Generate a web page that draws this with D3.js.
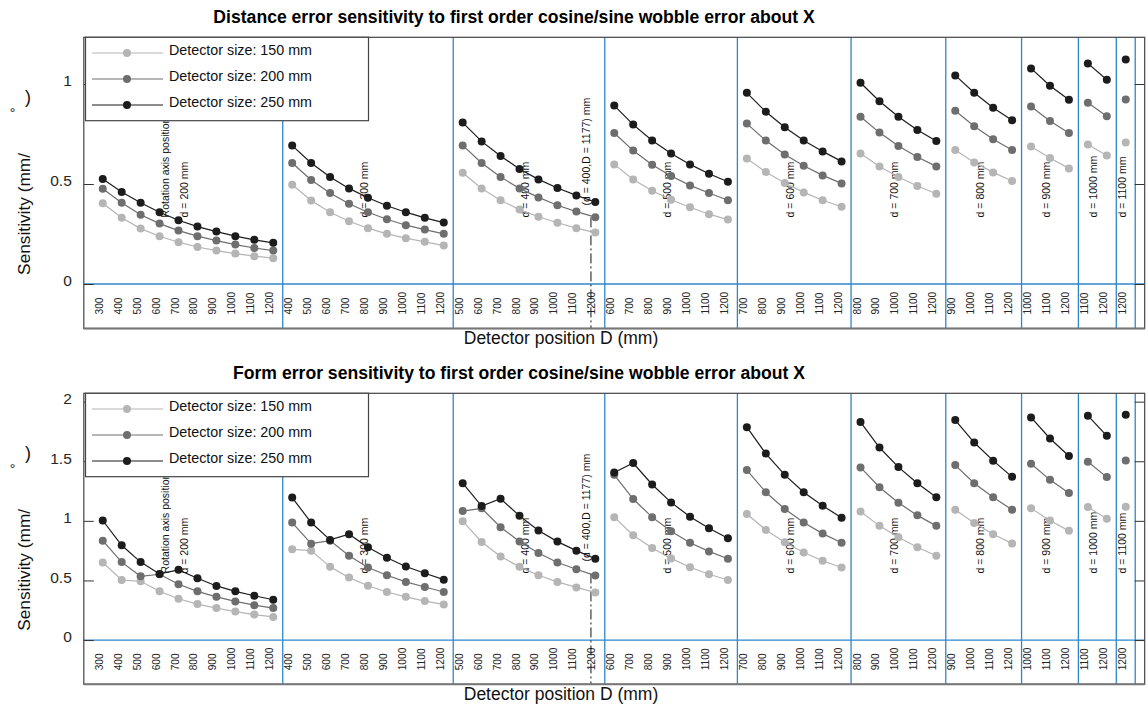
<!DOCTYPE html>
<html>
<head>
<meta charset="utf-8">
<script src="https://cdn.jsdelivr.net/npm/d3@7"></script>
<style>
body { margin: 0; background: #fff; }
svg text { font-family: "Liberation Sans", Arial, sans-serif; }
</style>
</head>
<body>
<div id="chart"></div>
<script>
// distance d between source and rotation axis for each group (mm)
const rotationAxisD = [200, 300, 400, 500, 600, 700, 800, 900, 1000, 1100];

// detector positions D inside each group (mm)
const detectorPositions = [
    [300, 400, 500, 600, 700, 800, 900, 1000, 1100, 1200],
    [400, 500, 600, 700, 800, 900, 1000, 1100, 1200],
    [500, 600, 700, 800, 900, 1000, 1100, 1200],
    [600, 700, 800, 900, 1000, 1100, 1200],
    [700, 800, 900, 1000, 1100, 1200],
    [800, 900, 1000, 1100, 1200],
    [900, 1000, 1100, 1200],
    [1000, 1100, 1200],
    [1100, 1200],
    [1200]
];

const seriesNames = ["Detector size: 150 mm", "Detector size: 200 mm", "Detector size: 250 mm"];
const seriesColors = ["#b5b5b5", "#6e6e6e", "#1c1c1c"];

// distance error sensitivity (mm/deg)
const distance150 = [
    [0.404, 0.331, 0.277, 0.239, 0.209, 0.185, 0.167, 0.152, 0.139, 0.129],
    [0.496, 0.418, 0.359, 0.314, 0.279, 0.251, 0.229, 0.211, 0.192],
    [0.556, 0.478, 0.419, 0.372, 0.336, 0.306, 0.279, 0.257],
    [0.598, 0.523, 0.466, 0.421, 0.384, 0.349, 0.322],
    [0.628, 0.560, 0.505, 0.458, 0.419, 0.386],
    [0.652, 0.588, 0.535, 0.490, 0.451],
    [0.670, 0.608, 0.558, 0.515],
    [0.687, 0.630, 0.578],
    [0.698, 0.643],
    [0.707]
];
const distance200 = [
    [0.476, 0.406, 0.346, 0.302, 0.267, 0.239, 0.217, 0.197, 0.180, 0.167],
    [0.605, 0.520, 0.455, 0.401, 0.359, 0.324, 0.294, 0.272, 0.251],
    [0.693, 0.605, 0.535, 0.478, 0.433, 0.394, 0.362, 0.334],
    [0.755, 0.667, 0.596, 0.540, 0.493, 0.455, 0.419],
    [0.802, 0.717, 0.648, 0.591, 0.543, 0.503],
    [0.836, 0.757, 0.690, 0.635, 0.588],
    [0.866, 0.789, 0.724, 0.670],
    [0.887, 0.815, 0.755],
    [0.906, 0.839],
    [0.922]
];
const distance250 = [
    [0.525, 0.460, 0.406, 0.359, 0.319, 0.287, 0.262, 0.239, 0.221, 0.206],
    [0.692, 0.605, 0.535, 0.478, 0.431, 0.391, 0.359, 0.331, 0.307],
    [0.807, 0.713, 0.640, 0.575, 0.523, 0.480, 0.443, 0.410],
    [0.892, 0.797, 0.718, 0.652, 0.598, 0.551, 0.511],
    [0.956, 0.861, 0.784, 0.717, 0.663, 0.613],
    [1.006, 0.914, 0.836, 0.770, 0.715],
    [1.043, 0.956, 0.881, 0.819],
    [1.078, 0.991, 0.921],
    [1.103, 1.021],
    [1.123]
];

// form error sensitivity (mm/deg)
const form150 = [
    [0.651, 0.504, 0.493, 0.409, 0.347, 0.302, 0.268, 0.239, 0.214, 0.194],
    [0.761, 0.750, 0.614, 0.524, 0.456, 0.403, 0.363, 0.327, 0.299],
    [0.997, 0.823, 0.702, 0.614, 0.544, 0.488, 0.442, 0.400],
    [1.031, 0.879, 0.772, 0.685, 0.611, 0.552, 0.504],
    [1.057, 0.924, 0.820, 0.735, 0.665, 0.609],
    [1.079, 0.958, 0.862, 0.778, 0.707],
    [1.093, 0.983, 0.888, 0.811],
    [1.105, 1.003, 0.916],
    [1.116, 1.017],
    [1.118]
];
const form200 = [
    [0.834, 0.654, 0.535, 0.552, 0.468, 0.409, 0.363, 0.324, 0.293, 0.268],
    [0.986, 0.809, 0.834, 0.707, 0.609, 0.544, 0.488, 0.445, 0.403],
    [1.082, 1.105, 0.947, 0.826, 0.730, 0.651, 0.594, 0.541],
    [1.386, 1.183, 1.031, 0.913, 0.817, 0.744, 0.682],
    [1.426, 1.240, 1.099, 0.986, 0.893, 0.817],
    [1.448, 1.282, 1.152, 1.046, 0.958],
    [1.468, 1.316, 1.198, 1.093],
    [1.479, 1.344, 1.234],
    [1.496, 1.367],
    [1.507]
];
const form250 = [
    [1.003, 0.795, 0.654, 0.555, 0.589, 0.518, 0.454, 0.409, 0.372, 0.338],
    [1.195, 0.986, 0.840, 0.888, 0.778, 0.690, 0.617, 0.561, 0.507],
    [1.316, 1.124, 1.186, 1.042, 0.919, 0.826, 0.750, 0.682],
    [1.406, 1.485, 1.305, 1.155, 1.034, 0.938, 0.854],
    [1.786, 1.564, 1.386, 1.240, 1.127, 1.026],
    [1.829, 1.615, 1.451, 1.316, 1.198],
    [1.845, 1.657, 1.505, 1.369],
    [1.868, 1.691, 1.544],
    [1.882, 1.713],
    [1.891]
];

const yTicksDistance = [0, 0.5, 1];
const yTicksForm = [0, 0.5, 1, 1.5, 2];

// special marker: rotation axis limit
const limitD = 400;
const limitDetector = 1177;

const blue = "#2f86cc";

const svg = d3.select("#chart").append("svg")
    .attr("width", 1148)
    .attr("height", 705);

// running index of every point along the categorical x axis
let idx = 0;
const groups = detectorPositions.map((ds, g) => {
    const start = idx + 1;
    idx += ds.length;
    return { g: g, d: rotationAxisD[g], ds: ds, start: start, end: idx };
});

const x = d3.scaleLinear().domain([0, idx + 1]).range([83.8, 1144.7]);

const panels = [
    {
        title: "Distance error sensitivity to first order cosine/sine wobble error about X",
        titleX: 514, titleY: 23,
        top: 37.3, bottom: 328.5,
        yDomain: [-0.2225, 1.2335],
        yTicks: yTicksDistance,
        series: [distance150, distance200, distance250]
    },
    {
        title: "Form error sensitivity to first order cosine/sine wobble error about X",
        titleX: 519, titleY: 379,
        top: 393.3, bottom: 684.3,
        yDomain: [-0.371, 2.07],
        yTicks: yTicksForm,
        series: [form150, form200, form250]
    }
];

panels.forEach(drawPanel);

function drawPanel(p) {
    const y = d3.scaleLinear().domain(p.yDomain).range([p.bottom, p.top]);
    const left = x.range()[0], right = x.range()[1];
    const g = svg.append("g");

    // title
    g.append("text")
        .attr("x", p.titleX).attr("y", p.titleY)
        .attr("text-anchor", "middle")
        .attr("font-weight", "bold")
        .attr("font-size", 17.6)
        .attr("fill", "#000")
        .text(p.title);

    // group separators
    g.selectAll(".sep")
        .data(groups)
        .enter()
        .append("line")
        .attr("x1", d => x(d.end + 0.5)).attr("x2", d => x(d.end + 0.5))
        .attr("y1", p.top).attr("y2", p.bottom)
        .attr("stroke", blue).attr("stroke-width", 1.3);

    // zero line
    g.append("line")
        .attr("x1", left).attr("x2", right)
        .attr("y1", y(0)).attr("y2", y(0))
        .attr("stroke", blue).attr("stroke-width", 1.3);

    // detector position labels
    groups.forEach(gr => {
        gr.ds.forEach((D, i) => {
            g.append("text")
                .attr("transform", `translate(${x(gr.start + i)},${p.bottom - 14}) rotate(-90)`)
                .attr("font-size", 10.2)
                .attr("fill", "#262626")
                .text(D);
        });
    });

    // group annotations
    const annY = y(0.27 * p.yDomain[1]);
    groups.forEach(gr => {
        const cx = x((gr.start + gr.end) / 2);
        g.append("text")
            .attr("transform", `translate(${cx},${annY}) rotate(-90)`)
            .attr("font-size", 10.5)
            .attr("fill", "#111")
            .text(`d = ${gr.d} mm`);
        if (gr.g === 0) {
            g.append("text")
                .attr("transform", `translate(${cx - 19},${annY}) rotate(-90)`)
                .attr("font-size", 10.5)
                .attr("fill", "#111")
                .text("Rotation axis position");
        }
    });

    // limit marker (dash-dot)
    const lg = groups[rotationAxisD.indexOf(limitD)];
    const lx = x(lg.start + (limitDetector - lg.ds[0]) / 100);
    g.append("line")
        .attr("x1", lx).attr("x2", lx)
        .attr("y1", annY).attr("y2", p.bottom)
        .attr("stroke", "#111").attr("stroke-width", 1)
        .attr("stroke-dasharray", "10,3,2,3");
    g.append("text")
        .attr("transform", `translate(${lx - 1},${y(0.318 * p.yDomain[1])}) rotate(-90)`)
        .attr("font-size", 10.5)
        .attr("fill", "#111")
        .text(`(d = ${limitD},D = ${limitDetector}) mm`);

    // series
    const line = d3.line();
    p.series.forEach((data, s) => {
        groups.forEach(gr => {
            const pts = data[gr.g].map((v, i) => [x(gr.start + i), y(v)]);
            g.append("path")
                .attr("d", line(pts))
                .attr("fill", "none")
                .attr("stroke", seriesColors[s])
                .attr("stroke-width", 1.2);
            g.selectAll(null)
                .data(pts)
                .enter()
                .append("circle")
                .attr("cx", d => d[0]).attr("cy", d => d[1])
                .attr("r", 4)
                .attr("fill", seriesColors[s]);
        });
    });

    // y axes (ticks inward)
    const yl = g.append("g")
        .attr("transform", `translate(${left},0)`)
        .call(d3.axisLeft(y).tickValues(p.yTicks).tickSize(-10).tickPadding(12).tickFormat(d => d));
    yl.select(".domain").remove();
    yl.selectAll("line").attr("stroke", "#333");
    yl.selectAll("text")
        .attr("font-size", 15.5)
        .attr("font-family", "Liberation Sans, Arial, sans-serif")
        .attr("fill", "#262626")
        .attr("dy", "0.12em");

    const yr = g.append("g")
        .attr("transform", `translate(${right},0)`)
        .call(d3.axisRight(y).tickValues(p.yTicks).tickSize(-10).tickFormat(""));
    yr.select(".domain").remove();
    yr.selectAll("line").attr("stroke", "#333");

    // frame
    g.append("rect")
        .attr("x", left).attr("y", p.top)
        .attr("width", right - left).attr("height", p.bottom - p.top)
        .attr("fill", "none").attr("stroke", "#444").attr("stroke-width", 1.2);
    g.append("line")
        .attr("x1", left).attr("x2", right)
        .attr("y1", p.bottom).attr("y2", p.bottom)
        .attr("stroke", "#777").attr("stroke-width", 2);

    // legend
    const lgd = g.append("g");
    lgd.append("rect")
        .attr("x", 85.5).attr("y", p.top)
        .attr("width", 283).attr("height", 83.4)
        .attr("fill", "#fff").attr("stroke", "#444").attr("stroke-width", 1.2);
    seriesNames.forEach((name, s) => {
        const ly = p.top + 15.7 + s * 26;
        lgd.append("line")
            .attr("x1", 92).attr("x2", 163)
            .attr("y1", ly).attr("y2", ly)
            .attr("stroke", seriesColors[s]).attr("stroke-width", 1.2);
        lgd.append("circle")
            .attr("cx", 127).attr("cy", ly).attr("r", 4)
            .attr("fill", seriesColors[s]);
        lgd.append("text")
            .attr("x", 169).attr("y", ly + 1.5)
            .attr("font-size", 14.3)
            .attr("fill", "#111")
            .text(name);
    });

    // axis labels
    g.append("text")
        .attr("x", 561).attr("y", p.bottom + 15.5)
        .attr("text-anchor", "middle")
        .attr("font-size", 17.5)
        .attr("fill", "#111")
        .text("Detector position D (mm)");

    const c = (p.top + p.bottom) / 2;
    g.append("text")
        .attr("transform", `translate(30,${c + 92}) rotate(-90)`)
        .attr("font-size", 17.3)
        .attr("fill", "#111")
        .text("Sensitivity (mm/");
    g.append("text")
        .attr("x", 12.5).attr("y", c - 65)
        .attr("text-anchor", "middle")
        .attr("font-size", 14)
        .attr("fill", "#111")
        .text("°");
    g.append("text")
        .attr("x", 28).attr("y", c - 80)
        .attr("text-anchor", "middle")
        .attr("font-size", 18)
        .attr("fill", "#111")
        .text(")");
}
</script>
</body>
</html>
